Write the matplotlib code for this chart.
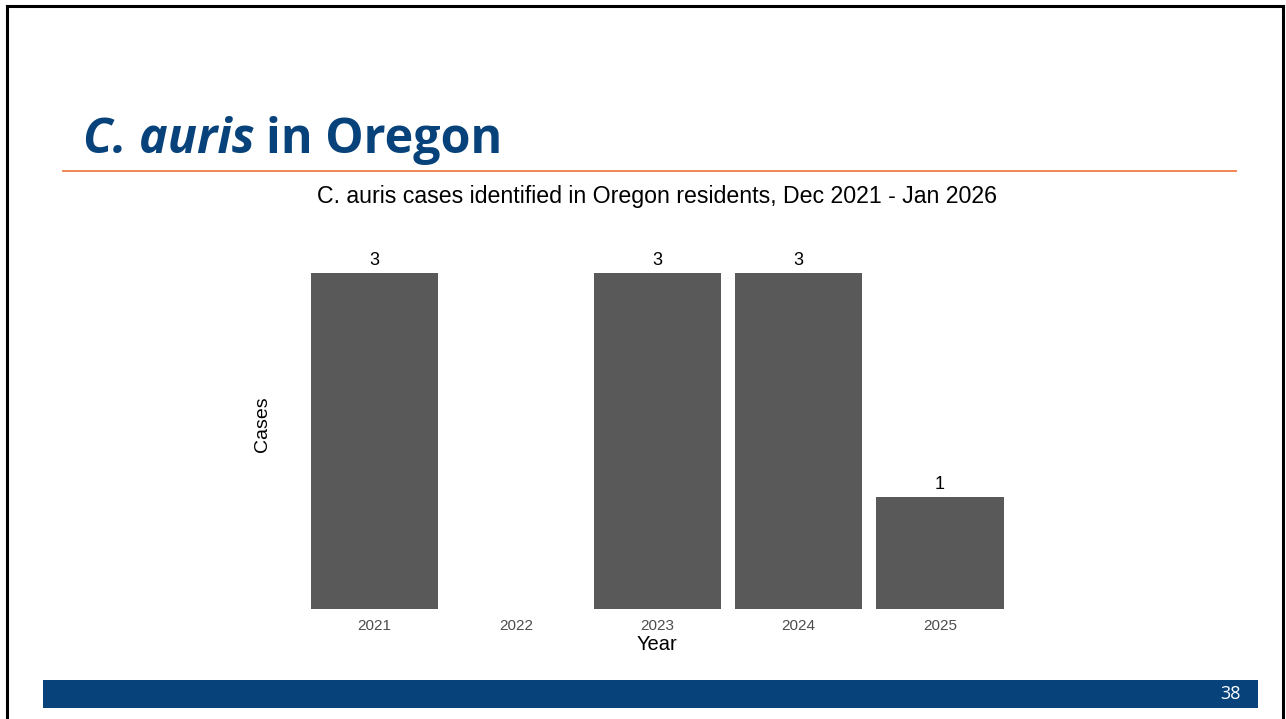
import matplotlib
matplotlib.use("Agg")
import matplotlib.pyplot as plt
from matplotlib.patches import Rectangle
from matplotlib.lines import Line2D

years = ["2021", "2022", "2023", "2024", "2025"]
cases = [3, 0, 3, 3, 1]

W, H = 1286, 719
fig = plt.figure(figsize=(W / 100, H / 100), dpi=100)

def fx(px):
    return px / W

def fy(py):
    return 1 - py / H

# slide frame
fig.add_artist(Line2D([fx(7), fx(7)], [fy(6), 0], color="black", lw=2.2))
fig.add_artist(Line2D([fx(7), fx(1283)], [fy(6), fy(6)], color="black", lw=2.2))
fig.add_artist(Line2D([fx(1283), fx(1283)], [fy(6), 0], color="black", lw=2.2))

# slide heading
blue = "#07427a"
fig.text(fx(83), fy(153), "C. auris", fontsize=34.8, fontweight="bold", style="italic",
         family="Open Sans", color=blue, va="baseline")
fig.text(fx(266), fy(153), "in Oregon", fontsize=34.8, fontweight="bold",
         family="Open Sans", color=blue, va="baseline")
fig.add_artist(Line2D([fx(63), fx(1236)], [fy(170.5), fy(170.5)], color="#f07d45", lw=1.3))

# footer
fig.add_artist(Rectangle((fx(43), fy(708)), fx(1258 - 43), fy(680) - fy(708),
                         color="#07427a", lw=0))
fig.text(fx(1241), fy(694), "38", color="white", fontsize=13, family="Open Sans",
         ha="right", va="center")

# chart
ax = fig.add_axes([fx(289.6), fy(609), fx(1024.9 - 289.6), fy(239) - fy(609)])
pos = list(range(len(years)))
bars = ax.bar(pos, cases, width=0.9, color="#595959")
for x, v in zip(pos, cases):
    if v > 0:
        ax.text(x, v + 0.035, str(v), ha="center", va="bottom", fontsize=13,
                family="Liberation Sans", color="black")
ax.set_xlim(-0.6, len(years) - 0.4)
ax.set_ylim(0, 3.3)
ax.set_xticks(pos)
ax.set_xticklabels(years, family="Liberation Sans", fontsize=11, color="#4d4d4d")
ax.set_yticks([])
ax.tick_params(axis="x", length=0, pad=7.5)
for s in ax.spines.values():
    s.set_visible(False)
ax.set_xlabel("Year", family="Liberation Sans", fontsize=14.5, labelpad=1)
ax.set_ylabel("Cases", family="Liberation Sans", fontsize=14)
ax.yaxis.set_label_coords(fx(271 - 289.6) / fx(1024.9 - 289.6), 0.5)

fig.text(fx(657), fy(196), "C. auris cases identified in Oregon residents, Dec 2021 - Jan 2026",
         ha="center", va="center", fontsize=16.7, family="Liberation Sans")

fig.savefig("out.png", dpi=100)
